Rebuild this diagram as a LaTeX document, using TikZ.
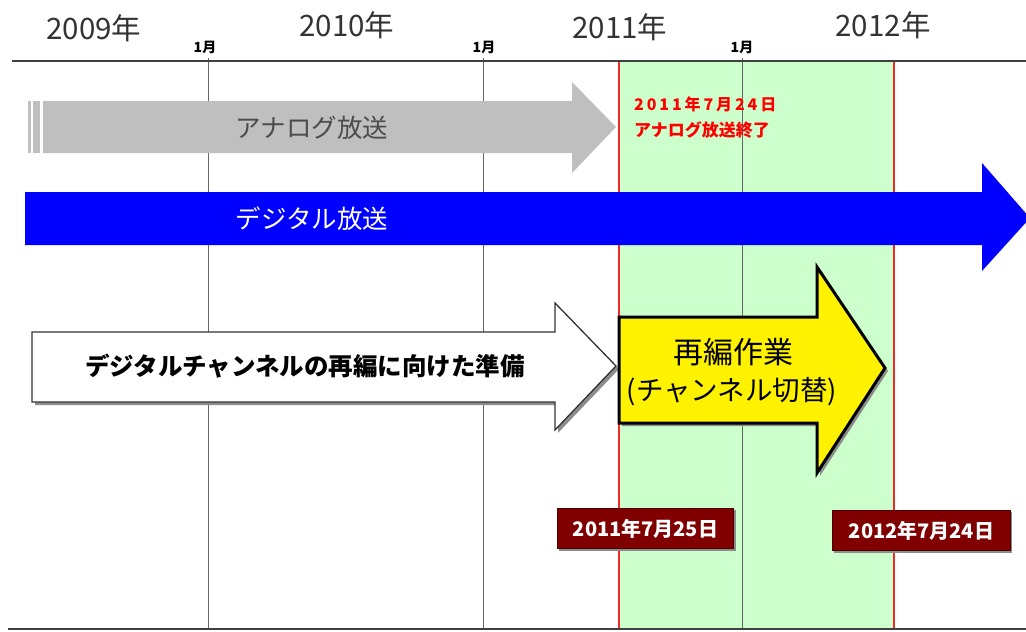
\documentclass[tikz,border=0pt]{standalone}
\usepackage{fontspec}
\setmainfont{Noto Sans CJK JP}
\begin{document}
\begin{tikzpicture}[x=1pt,y=-1pt,
  yearlbl/.style={font=\fontsize{29.5}{31}\selectfont, text=black!80, inner sep=0pt},
  monthlbl/.style={font=\bfseries\fontsize{14}{15}\selectfont, text=black, inner sep=0pt},
  gridline/.style={draw=black!60, line width=0.8pt},
  redline/.style={draw={rgb,255:red,240;green,40;blue,40}, line width=2pt},
  axisline/.style={draw=black!75, line width=2pt},
  datebox/.style={fill=red!50!black, draw=red!30!black, line width=1pt, text=white,
    font=\bfseries\fontsize{20}{22}\selectfont, inner xsep=6pt, inner ysep=5pt,
    minimum width=176pt, minimum height=40pt},
  shadowcol/.style={fill=black!45},
]
\useasboundingbox (0,0) rectangle (1026,632);
\fill[white] (0,0) rectangle (1026,632);
% green band
\fill[green!20] (619,62) rectangle (894,629);
% grid lines
\foreach \x in {208,483,742} \draw[gridline] (\x,58) -- (\x,629);
\draw[redline] (619,62) -- (619,629);
\draw[redline] (894,62) -- (894,629);
% axes
\draw[axisline] (12,61) -- (1026,61);
\draw[axisline] (8,629) -- (1026,629);
% year labels
\node[yearlbl] (y2009) at (94,28) {2009年};
\node[yearlbl] (y2010) at (347,25) {2010年};
\node[yearlbl] (y2011) at (620,27) {2011年};
\node[yearlbl] (y2012) at (883,25) {2012年};
\node[monthlbl] (m1) at (205,47) {1月};
\node[monthlbl] (m2) at (484,47) {1月};
\node[monthlbl] (m3) at (742,47) {1月};
% grey arrow
\fill[black!25] (43,101) -- (572,101) -- (572,82) -- (616,127) -- (572,173) -- (572,153) -- (43,153) -- cycle;
\fill[black!25] (28,101) rectangle (31,153);
\fill[black!25] (33,101) rectangle (40,153);
\node[font=\fontsize{25.5}{27}\selectfont, text=black!70] (analog) at (312,128) {アナログ放送};
% blue arrow
\fill[blue] (25,192) -- (982,192) -- (982,163) -- (1030,218) -- (982,271) -- (982,245) -- (25,245) -- cycle;
\node[font=\fontsize{25.5}{27}\selectfont, text=white] (digital) at (312,219) {デジタル放送};
% red note
\node[anchor=west, text=red, font=\bfseries\fontsize{16}{18}\selectfont, inner sep=0pt] (note1) at (634,104) {\addfontfeature{LetterSpace=18}2011年7月24日};
\node[anchor=west, text=red, font=\bfseries\fontsize{17}{18}\selectfont, inner sep=0pt] (note2) at (634,130) {アナログ放送終了};
% white arrow
\fill[shadowcol] (35,335) -- (558,335) -- (558,306) -- (619,369) -- (558,433) -- (558,405) -- (35,405) -- cycle;
\filldraw[fill=white, draw=black!80, line width=1.3pt] (32,332) -- (555,332) -- (555,303) -- (616,366) -- (555,430) -- (555,402) -- (32,402) -- cycle;
\node[font=\bfseries\fontsize{24.5}{26}\selectfont, text=black] (prep) at (305,366) {デジタルチャンネルの再編に向けた準備};
% yellow arrow
\fill[shadowcol] (622,320) -- (820,320) -- (820,270) -- (888,371) -- (820,476) -- (820,426) -- (622,426) -- cycle;
\filldraw[fill=yellow, draw=black, line width=3pt, line join=miter] (619,317) -- (817,317) -- (817,267) -- (885,368) -- (817,473) -- (817,423) -- (619,423) -- cycle;
\node[font=\fontsize{30}{32}\selectfont, text=black] (rework) at (733,352) {再編作業};
\node[font=\fontsize{27.5}{29}\selectfont, text=black] (switch) at (732,392) {(チャンネル切替)};
% date labels
\fill[shadowcol] (559,510) rectangle (736,551);
\node[datebox, anchor=north west] (d1) at (557,508) {2011年7月25日};
\fill[shadowcol] (834,512) rectangle (1012,553);
\node[datebox, anchor=north west, minimum width=178pt] (d2) at (832,510) {2012年7月24日};
\end{tikzpicture}
\end{document}
